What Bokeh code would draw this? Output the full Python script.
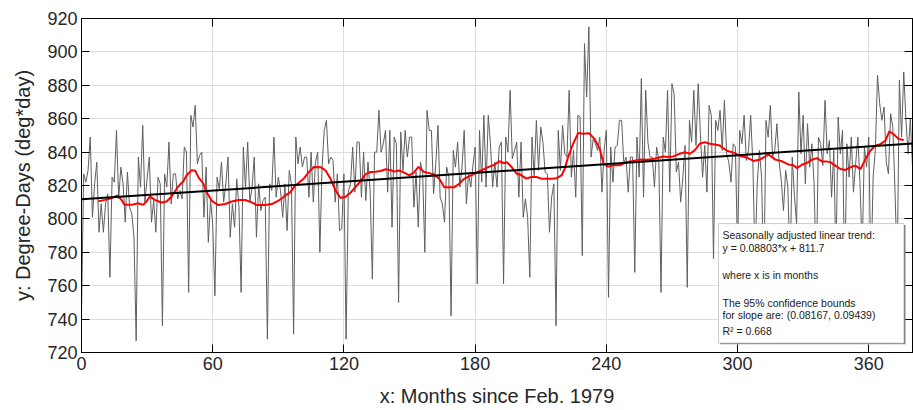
from bokeh.plotting import figure
from bokeh.models import LinearAxis, FixedTicker, BoxAnnotation, Label, Range1d, CustomJSTickFormatter
from bokeh.embed import file_html
from bokeh.resources import INLINE

# ---------------- data ----------------
months = list(range(0, 381))
degree_days = [
    745, 827, 822, 829, 849, 801, 821, 834, 792, 809,
    792, 809, 815, 765, 825, 822, 853, 812, 831, 821,
    798, 828, 807, 803, 789, 727, 837, 819, 856, 810,
    824, 837, 798, 811, 792, 825, 821, 736, 827, 819,
    846, 809, 827, 827, 812, 817, 812, 843, 840,
    756, 862, 855, 868, 833, 838, 840, 801, 831, 786,
    811, 797, 754, 825, 818, 834, 810, 821, 837, 789,
    809, 795, 824, 807, 756, 843, 819, 846, 810, 819,
    837, 789, 821, 805, 811, 813, 728, 821, 817, 849,
    813, 825, 817, 801, 821, 793, 829, 821, 731,
    849, 833, 843, 831, 837, 837, 813, 840, 810, 834,
    840, 780, 831, 853, 859, 833, 837, 835, 810, 827,
    793, 794, 827, 728, 816, 821, 843, 816, 846, 846,
    813, 840, 811, 834, 817, 764, 840, 840, 865, 840,
    845, 853, 816, 853, 795, 849, 845, 750, 852,
    829, 853, 837, 849, 849, 807, 828, 795, 834, 827,
    780, 865, 853, 853, 815, 833, 856, 813, 809, 798,
    831, 825, 742, 841, 831, 846, 819, 831, 853, 809,
    827, 819, 832, 843, 761, 853, 822, 862, 819, 862,
    845, 819, 834, 819, 843, 846, 761, 849, 840,
    877, 836, 841, 846, 813, 846, 801, 812, 801, 765,
    849, 825, 859, 829, 855, 846, 828, 827, 792, 813,
    821, 736, 853, 829, 856, 839, 837, 877, 825, 841,
    813, 862, 861, 778, 905, 873, 915, 837, 848, 845,
    841, 849, 816, 841, 853, 753, 843, 822, 843,
    844, 859, 859, 833, 837, 816, 837, 837, 768, 849,
    825, 884, 813, 877, 846, 837, 837, 819, 843, 835,
    756, 849, 840, 877, 816, 881, 875, 828, 834, 810,
    825, 844, 759, 859, 846, 877, 844, 881, 851, 825,
    844, 816, 868, 862, 776, 859, 853, 865, 841,
    871, 839, 834, 822, 845, 843, 780, 853, 845, 862,
    835, 841, 862, 833, 775, 821, 841, 825, 760, 859,
    849, 868, 837, 841, 857, 834, 823, 805, 829, 819,
    770, 837, 814, 797, 876, 839, 862, 821, 857, 831,
    845, 821, 765, 849, 845, 832, 871, 839, 847,
    813,
    841, 775, 861, 839, 853, 760, 845, 825, 849, 816,
    833, 849, 821, 780, 843, 831, 849, 765, 825, 841,
    886, 869, 859, 867, 834, 827, 863, 855, 817, 770,
    883, 849, 888, 859, 839, 860, 831,
]

ma_months = [
    7.6, 10.7, 13.7, 16.5, 18.3, 19.8, 22.9, 25.9, 28.2, 29.7,
    31.3, 33.5, 36.6, 38.9, 41.2, 42.7, 44.2, 46.5, 48.0, 50.4,
    52.0, 53.5, 55.8, 57.3, 59.6, 62.6, 65.7, 68.7, 71.8, 74.8,
    77.9, 80.2, 84.0, 87.0, 90.1, 93.1, 95.4, 97.7, 101.7, 104.0,
    106.3, 109.4, 111.6, 113.9, 116.2, 118.5, 120.8, 123.1, 125.4, 127.7,
    129.9, 132.2, 134.5, 136.8, 139.1, 141.4, 142.9, 145.2, 147.6, 149.9,
    152.2, 154.1, 156.7, 159.0, 161.3, 163.6, 165.9, 168.2, 170.5, 172.7,
    175.0, 177.3, 179.6, 181.9, 184.2, 186.5, 188.7, 191.0, 193.3, 194.5,
    196.6, 198.9, 201.2, 203.4, 205.7, 208.0, 210.3, 212.6, 214.9, 217.2,
    219.5, 221.0, 222.5, 224.8, 227.1, 229.4, 232.1, 234.7, 237.0, 238.8,
    240.8, 243.1, 246.1, 249.2, 252.2, 255.3, 258.3, 261.4, 263.7, 266.0,
    268.3, 270.5, 273.6, 275.9, 278.2, 280.4, 282.7, 285.0, 287.3, 289.6,
    291.9, 295.1, 298.2, 301.2, 304.3, 307.3, 310.4, 314.2, 317.3, 320.3,
    323.4, 325.6, 327.2, 329.4, 331.7, 334.0, 336.3, 338.6, 340.9, 342.4,
    344.7, 347.0, 349.3, 351.6, 353.9, 356.2, 358.5, 360.7, 363.0, 365.3,
    367.6, 369.4, 371.4, 373.7, 376.0,
]
ma_values = [
    810.5, 811.4, 812.4, 814.1, 811.4, 808.4, 808.4, 809.4, 808.4, 810.4,
    813.5, 811.4, 809.8, 810.4, 813.4, 816.4, 819.4, 822.4, 826.0, 829.2,
    828.9, 824.9, 820.9, 815.8, 810.8, 808.3, 808.9, 810.4, 811.3, 811.3,
    809.9, 808.3, 808.3, 808.9, 810.9, 813.9, 815.9, 819.9, 824.2, 828.1,
    831.1, 831.0, 829.0, 824.0, 816.9, 812.5, 813.3, 815.8, 819.2, 822.8,
    826.8, 828.1, 828.3, 828.7, 829.7, 829.2, 828.3, 829.0, 827.7, 826.1,
    828.1, 831.1, 828.1, 827.4, 826.6, 824.0, 819.0, 819.0, 819.0, 821.0,
    824.0, 825.6, 827.0, 828.6, 829.9, 831.3, 832.3, 834.5, 833.3, 834.0,
    831.2, 827.2, 826.1, 824.1, 825.1, 825.1, 824.1, 824.1, 824.0, 824.4,
    826.0, 830.1, 837.0, 845.0, 851.4, 851.0, 851.3, 847.8, 841.8, 832.9,
    831.3, 832.1, 832.1, 834.0, 834.7, 835.5, 835.4, 835.8, 836.6, 837.4,
    837.0, 837.4, 839.0, 840.0, 839.0, 841.0, 845.0, 846.0, 845.0, 844.5,
    843.9, 840.8, 839.7, 837.7, 836.7, 834.7, 835.6, 838.6, 835.5, 834.5,
    832.5, 832.1, 830.4, 832.4, 833.5, 835.4, 836.4, 834.4, 834.3, 834.0,
    831.9, 829.9, 829.3, 830.9, 831.9, 829.8, 835.8, 840.8, 843.8, 844.8,
    846.8, 852.4, 850.7, 847.8, 847.2,
]

slope = 0.08803
intercept = 811.7
ci_low, ci_high = 0.08167, 0.09439
r_squared = 0.668

x_ticks = [0, 60, 120, 180, 240, 300, 360]
y_ticks = [720, 740, 760, 780, 800, 820, 840, 860, 880, 900, 920]

# ---------------- figure ----------------
FONT = "Liberation Sans"
p = figure(width=913, height=410, output_backend="svg", toolbar_location=None,
           x_range=Range1d(0, 380), y_range=Range1d(720, 920),
           min_border_left=81, min_border_right=1, min_border_top=18,
           min_border_bottom=58, background_fill_color="white",
           border_fill_color="white")
p.outline_line_color = "black"
p.outline_line_width = 1
p.outline_line_alpha = 1

for grid, ticks in ((p.xgrid, x_ticks), (p.ygrid, y_ticks)):
    grid.ticker = FixedTicker(ticks=ticks)
    grid.grid_line_color = "#dddddd"
    grid.grid_line_width = 1

def style_axis(ax, ticks, show_labels=True):
    ax.ticker = FixedTicker(ticks=ticks)
    ax.major_tick_in = 8
    ax.major_tick_out = 0
    ax.major_tick_line_color = "black"
    ax.minor_tick_line_color = None
    ax.axis_line_color = "black"
    if show_labels:
        ax.major_label_text_font = FONT
        ax.major_label_text_font_size = "18px"
        ax.major_label_text_color = "#262626"
        ax.major_label_standoff = 4
        ax.axis_label_text_font = FONT
        ax.axis_label_text_font_size = "20px"
        ax.axis_label_text_font_style = "normal"
        ax.axis_label_text_color = "#262626"
        ax.axis_label_standoff = 10
    else:
        ax.formatter = CustomJSTickFormatter(code="return '';")
        ax.major_label_standoff = 0

style_axis(p.xaxis[0], x_ticks)
style_axis(p.yaxis[0], y_ticks)
p.xaxis[0].axis_label = "x: Months since Feb. 1979"
p.yaxis[0].axis_label = "y: Degree-Days (deg*day)"
p.xaxis[0].axis_label_standoff = 12

top_ax = LinearAxis()
style_axis(top_ax, x_ticks, show_labels=False)
p.add_layout(top_ax, "above")
right_ax = LinearAxis()
style_axis(right_ax, y_ticks, show_labels=False)
p.add_layout(right_ax, "right")

# ---------------- glyphs ----------------
p.line(months, degree_days, line_color="#5f5f5f", line_width=1)
p.line(ma_months, ma_values, line_color="#ff0000", line_width=2)
trend_x = [months[0], months[-1]]
trend_y = [slope * x + intercept for x in trend_x]
p.line(trend_x, trend_y, line_color="black", line_width=2)

# ---------------- annotation box (with a soft shadow) ----------------
shadow = BoxAnnotation(left=292.0, right=376.8, top=796.4, bottom=724.9,
                       fill_color="#8a8a8a", fill_alpha=1.0, line_color=None)
p.add_layout(shadow)
box = BoxAnnotation(left=291.3, right=376.1, top=797.2, bottom=725.6,
                    fill_color="white", fill_alpha=1.0,
                    line_color="#555555", line_width=1)
p.add_layout(box)

lines = [
    ("Seasonally adjusted linear trend:", 790.6),
    (f"y = {slope}*x + {intercept}", 782.8),
    ("where x is in months", 766.6),
    ("The 95% confidence bounds", 749.8),
    (f"for slope are: ({ci_low}, {ci_high})", 742.6),
    (f"R\u00b2 = {r_squared}", 733.0),
]
for txt, yy in lines:
    p.add_layout(Label(x=293.1, y=yy, text=txt, text_font=FONT,
                       text_font_size="10.5px", text_color="#1a1a1a",
                       text_baseline="middle", text_align="left"))

open("out.html", "w").write(file_html(p, INLINE))
